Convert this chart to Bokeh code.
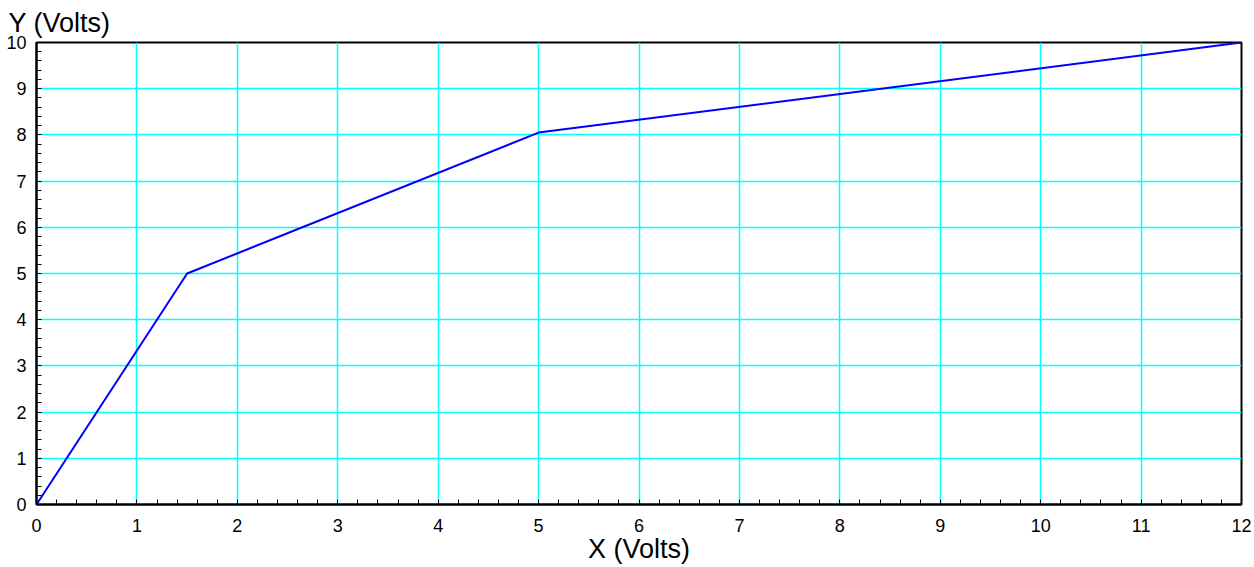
from bokeh.plotting import figure
from bokeh.embed import file_html
from bokeh.resources import INLINE
from bokeh.models import Range1d, FixedTicker

x_vals = [0, 1.5, 5, 12]
y_vals = [0, 5, 8.05, 10]
x_ticks = list(range(0, 13))
y_ticks = list(range(0, 11))
x_minor = [i * 0.2 for i in range(0, 61)]
y_minor = [i * 0.2 for i in range(0, 51)]

FONT = "Liberation Sans"

p = figure(width=1254, height=567, output_backend="svg", toolbar_location=None,
           x_range=Range1d(0, 12), y_range=Range1d(0, 10),
           min_border_left=36, min_border_right=13, min_border_top=42, min_border_bottom=63)

p.title.text = "Y (Volts)"
p.title.text_font = FONT
p.title.text_font_size = "27px"
p.title.text_font_style = "normal"
p.title.align = "left"
p.title.offset = -28
p.title.standoff = 10
p.title.text_color = "black"

p.line(x_vals, y_vals, line_color="#0000FF", line_width=2)

for ax, ticks, minor in ((p.xaxis[0], x_ticks, x_minor), (p.yaxis[0], y_ticks, y_minor)):
    ax.ticker = FixedTicker(ticks=ticks, minor_ticks=minor)
    ax.major_tick_in = 0
    ax.major_tick_out = 0
    ax.minor_tick_in = 5
    ax.minor_tick_out = 0
    ax.minor_tick_line_color = "black"
    ax.minor_tick_line_width = 1
    ax.axis_line_color = "black"
    ax.axis_line_width = 2
    ax.major_label_text_font = FONT
    ax.major_label_text_font_size = "18px"
    ax.major_label_text_color = "black"

p.xaxis.major_label_standoff = 14
p.yaxis.major_label_standoff = 10
p.xaxis.axis_label = "X (Volts)"
p.xaxis.axis_label_text_font = FONT
p.xaxis.axis_label_text_font_size = "27px"
p.xaxis.axis_label_text_font_style = "normal"
p.xaxis.axis_label_text_color = "black"
p.xaxis.axis_label_standoff = -1

p.xgrid.ticker = FixedTicker(ticks=x_ticks)
p.ygrid.ticker = FixedTicker(ticks=y_ticks)
p.xgrid.grid_line_color = "#00FFFF"
p.ygrid.grid_line_color = "#00FFFF"
p.xgrid.grid_line_width = 1.5
p.ygrid.grid_line_width = 1.5

p.outline_line_color = "black"
p.outline_line_width = 2
p.outline_line_alpha = 1

open("out.html", "w").write(file_html(p, INLINE))
